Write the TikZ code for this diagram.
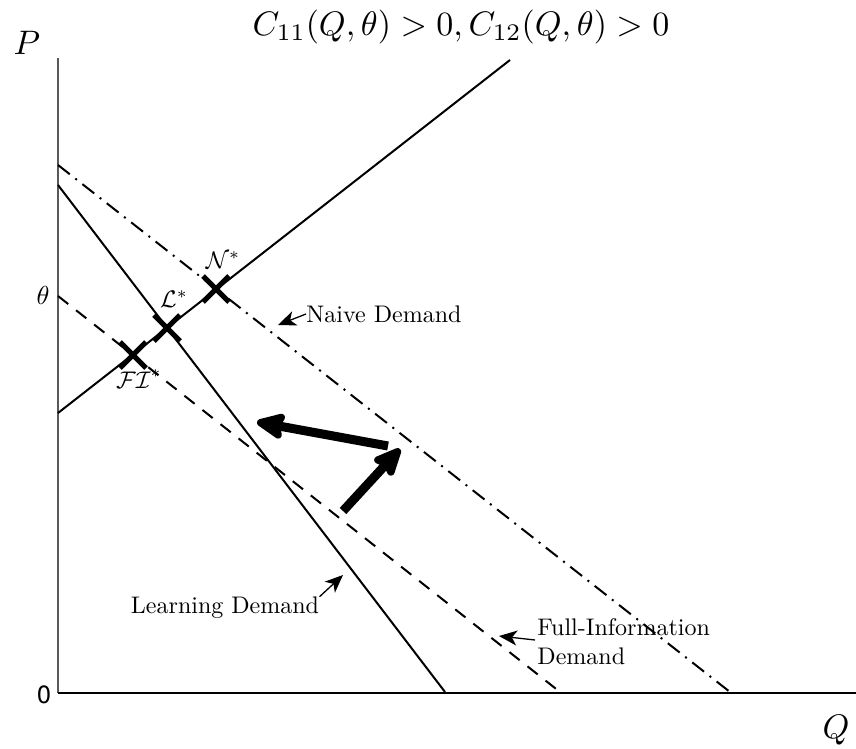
\documentclass[tikz,border=0pt]{standalone}
\usepackage{fontspec}
\newfontfamily\sansf{TeX Gyre Heros}
\usetikzlibrary{arrows.meta}
\tikzset{
  axisline/.style={line width=1.5},
  curve/.style={line width=2},
  marker/.style={line width=5},
  bigarrow/.style={line width=9,-{Stealth[length=34,width=30,inset=5,round]}},
  smallarrow/.style={line width=1.3,-{Stealth[length=18,width=15,inset=5]}},
  big/.style={scale=3.4, transform shape, inner sep=0},
  lbl/.style={scale=2.4, transform shape, inner sep=0},
  mlbl/.style={scale=2.4, transform shape, inner sep=0},
}
\begin{document}
\begin{tikzpicture}[x=1pt,y=-1pt]
\useasboundingbox (0,0) rectangle (856,749);
% axes
\coordinate (O) at (58,693);
\coordinate (Ptop) at (58,58);
\coordinate (Qend) at (856,693);
\draw[axisline, gray!70!black] (O) -- (Ptop);
\draw[axisline] (O) -- (Qend);
% curves
\coordinate (S1) at (58,413);   \coordinate (S2) at (510,60);
\coordinate (N1) at (58,165);   \coordinate (N2) at (730,692);
\coordinate (L1) at (58,185);   \coordinate (L2) at (445,692);
\coordinate (F1) at (58,296);   \coordinate (F2) at (560,692);
\draw[curve] (S1) -- (S2);
\draw[curve] (L1) -- (L2);
\draw[curve, dash pattern=on 13pt off 10pt] (F1) -- (F2);
\draw[curve, dash pattern=on 15pt off 7pt on 2pt off 7pt] (N1) -- (N2);
% markers
\coordinate (mN) at (216,289);
\coordinate (mL) at (167,328);
\coordinate (mF) at (133,355);
\foreach \m in {mN,mL,mF}{
  \draw[marker] ([shift={(-13,-13)}]\m) -- ([shift={(13,13)}]\m);
  \draw[marker] ([shift={(-13,13)}]\m) -- ([shift={(13,-13)}]\m);
}
\node[mlbl] (lN) at (223,260) {$\mathcal{N}^{*}$};
\node[mlbl] (lL) at (174,299) {$\mathcal{L}^{*}$};
\node[mlbl] (lF) at (139,379) {$\mathcal{FI}^{*}$};
% axis labels
\node[big] (title) at (461,27) {$C_{11}(Q,\theta) > 0, C_{12}(Q,\theta) > 0$};
\node[big] (Plab) at (27,43) {$P$};
\node[big] (Qlab) at (836,730) {$Q$};
\node[scale=2.6, transform shape, inner sep=0] (th) at (43,295) {$\theta$};
\node[inner sep=0, scale=2.5, transform shape, font=\sansf] (zero) at (44,695) {0};
% thick arrows
\coordinate (a1s) at (388,446); \coordinate (a1e) at (257,422);
\coordinate (a2s) at (343,511); \coordinate (a2e) at (400,449);
\draw[bigarrow] (a1s) -- (a1e);
\draw[bigarrow] (a2s) -- (a2e);
% curve labels
\node[lbl, anchor=west] (tN) at (306,314) {Naive Demand};
\node[lbl] (tL) at (225,608) {Learning Demand};
\node[lbl, anchor=west, align=left] (tF) at (537,642) {Full-Information\\Demand};
\coordinate (pN) at (278,325);
\coordinate (pL) at (343,575);
\coordinate (pF) at (499,636);
\coordinate (tFa) at (535,640);
\draw[smallarrow] (tN.west) -- (pN);
\draw[smallarrow] (tL.north east) -- (pL);
\draw[smallarrow] (tFa) -- (pF);
\end{tikzpicture}
\end{document}
